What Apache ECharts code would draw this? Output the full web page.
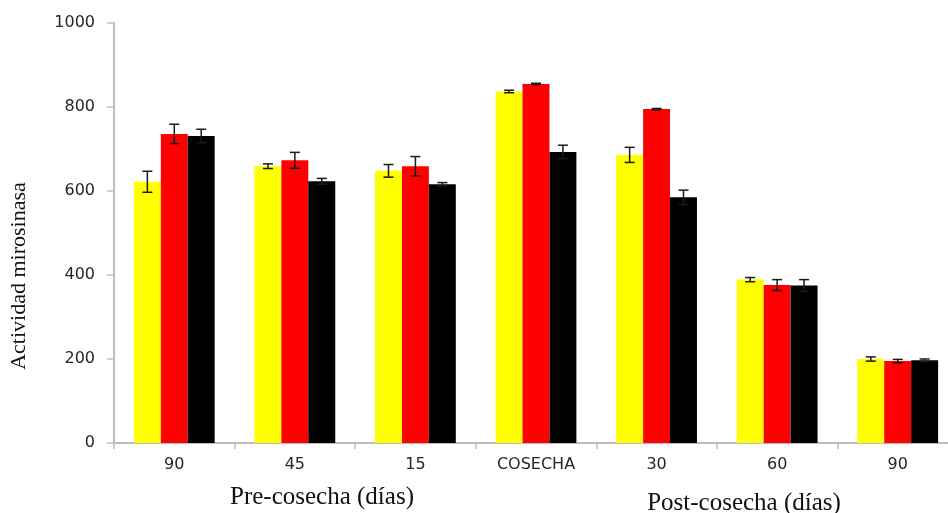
<!DOCTYPE html>
<html>
<head>
<meta charset="utf-8">
<script src="https://cdn.jsdelivr.net/npm/echarts@6/dist/echarts.min.js"></script>
<style>
  html, body { margin: 0; padding: 0; background: #ffffff; }
  #chart { width: 948px; height: 513px; }
</style>
</head>
<body>
<div id="chart"></div>
<script>
// Sampling points: pre-harvest days, harvest, post-harvest days
const categories = ['90', '45', '15', 'COSECHA', '30', '60', '90'];

// Myrosinase activity per treatment and its standard error
const amarillo = [622, 659, 648, 837, 686, 389, 200];
const amarilloErr = [25, 5.5, 15, 3, 18, 5, 5];
const rojo = [736, 673, 659, 855, 795, 376, 195];
const rojoErr = [23, 19, 23, 1.5, 1.5, 13, 4];
const negro = [731, 623, 616, 693, 585, 375, 197];
const negroErr = [16, 7, 4, 16, 17, 14, 3];

const yTicks = { min: 0, max: 1000, interval: 200 };

const CATEGORY_GAP = 0.33;
const N_BARS = 3;

const chart = echarts.init(document.getElementById('chart'), null, { renderer: 'canvas' });

function errorData(values, errs) {
  return values.map((v, i) => [i, v - errs[i], v + errs[i]]);
}

function errorSeries(values, errs, slot) {
  return {
    type: 'custom',
    z: 10,
    silent: true,
    data: errorData(values, errs),
    encode: { x: 0, y: [1, 2] },
    renderItem: function (params, api) {
      const band = api.size([1, 0])[0];
      const barW = band * (1 - CATEGORY_GAP) / N_BARS;
      const offset = (slot - (N_BARS - 1) / 2) * barW;
      const lo = api.coord([api.value(0), api.value(1)]);
      const hi = api.coord([api.value(0), api.value(2)]);
      const x = lo[0] + offset;
      const cap = 5;
      const style = { stroke: '#1a1a1a', lineWidth: 1.5, fill: null };
      return {
        type: 'group',
        children: [
          { type: 'line', shape: { x1: x, y1: lo[1], x2: x, y2: hi[1] }, style: style },
          { type: 'line', shape: { x1: x - cap, y1: lo[1], x2: x + cap, y2: lo[1] }, style: style },
          { type: 'line', shape: { x1: x - cap, y1: hi[1], x2: x + cap, y2: hi[1] }, style: style }
        ]
      };
    }
  };
}

const barBase = { type: 'bar', barGap: '0%', barCategoryGap: (CATEGORY_GAP * 100) + '%' };

chart.setOption({
  animation: false,
  backgroundColor: '#ffffff',
  // the plot area runs a little past the right edge of the canvas
  grid: { left: 114, top: 23, width: 844, height: 420, containLabel: false, outerBoundsMode: 'none' },
  xAxis: {
    type: 'category',
    data: categories,
    axisLine: { show: true, lineStyle: { color: '#bdbdbd', width: 2 } },
    axisTick: { show: true, length: 6, lineStyle: { color: '#bdbdbd', width: 1.5 } },
    axisLabel: {
      margin: 14,
      fontFamily: 'DejaVu Sans',
      fontSize: 16,
      color: '#262626',
      interval: 0
    },
    splitLine: { show: false }
  },
  yAxis: {
    type: 'value',
    min: yTicks.min,
    max: yTicks.max,
    interval: yTicks.interval,
    axisLine: { show: true, lineStyle: { color: '#bdbdbd', width: 2 } },
    axisTick: { show: true, length: 7, lineStyle: { color: '#bdbdbd', width: 1.5 } },
    axisLabel: {
      margin: 19,
      fontFamily: 'DejaVu Sans',
      fontSize: 16,
      color: '#262626',
      formatter: function (v) { return String(v); }
    },
    splitLine: { show: false }
  },
  graphic: [
    {
      type: 'text',
      x: 19,
      y: 276,
      rotation: Math.PI / 2,
      style: {
        text: 'Actividad mirosinasa',
        font: '22px "Liberation Serif"',
        fill: '#111111',
        textAlign: 'center',
        textVerticalAlign: 'middle'
      }
    },
    {
      type: 'text',
      x: 322,
      y: 497,
      style: {
        text: 'Pre-cosecha (días)',
        font: '25px "Liberation Serif"',
        fill: '#111111',
        textAlign: 'center',
        textVerticalAlign: 'middle'
      }
    },
    {
      type: 'text',
      x: 744,
      y: 503,
      style: {
        text: 'Post-cosecha (días)',
        font: '25px "Liberation Serif"',
        fill: '#111111',
        textAlign: 'center',
        textVerticalAlign: 'middle'
      }
    }
  ],
  series: [
    Object.assign({ name: 'Amarillo', data: amarillo, itemStyle: { color: '#ffff00' } }, barBase),
    Object.assign({ name: 'Rojo', data: rojo, itemStyle: { color: '#ff0000' } }, barBase),
    Object.assign({ name: 'Negro', data: negro, itemStyle: { color: '#000000' } }, barBase),
    errorSeries(amarillo, amarilloErr, 0),
    errorSeries(rojo, rojoErr, 1),
    errorSeries(negro, negroErr, 2)
  ]
});
</script>
</body>
</html>
